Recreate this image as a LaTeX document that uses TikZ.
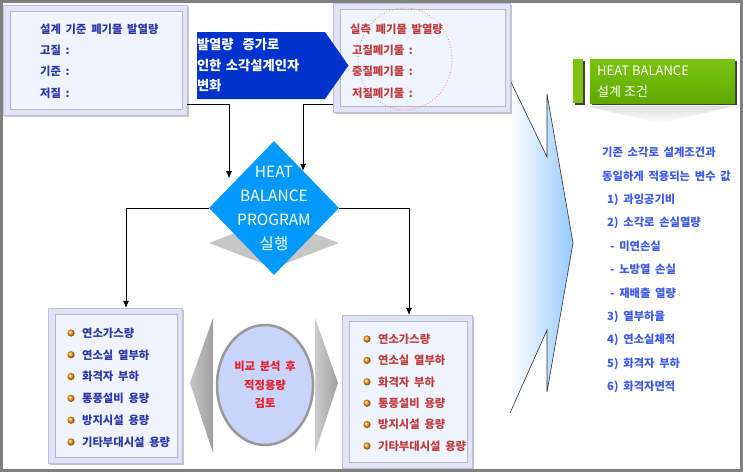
\documentclass[tikz,border=0pt]{standalone}
\usepackage{fontspec}
\setmainfont{Noto Sans CJK KR}
\usepackage{tikz}
\usetikzlibrary{arrows.meta,calc,positioning,shadows,shapes.geometric,shapes.symbols}
\definecolor{hbframe}{RGB}{226,226,250}
\definecolor{hbpaper}{RGB}{240,244,255}
\definecolor{hbnavy}{RGB}{44,56,170}
\definecolor{hbbrick}{RGB}{190,60,60}
\definecolor{hbroyal}{RGB}{0,51,204}
\definecolor{hbsky}{RGB}{0,153,255}
\definecolor{hbice}{RGB}{150,202,255}
\definecolor{hbgreen}{RGB}{96,168,0}
\definecolor{hbleaf}{RGB}{124,196,16}
\definecolor{hbcobalt}{RGB}{60,90,240}
\definecolor{hblilac}{RGB}{200,212,250}
\definecolor{hbscarlet}{RGB}{232,30,40}
\definecolor{hborange}{RGB}{255,160,20}
\newcommand{\hbfont}[2]{\fontsize{#1}{#2}\selectfont\bfseries\spaceskip=.42em\relax}
\tikzset{
  hbouter/.style={fill=hbframe,draw=hbframe!85!black,inner sep=0pt,
    drop shadow={shadow xshift=2pt,shadow yshift=-2pt,fill=gray,opacity=.45}},
  hbinset/.style={fill=hbpaper,draw=gray!55,line width=1.2pt},
  hbtext/.style={font=\hbfont{11.3}{21.3},align=left,inner sep=0pt},
  hbarrow/.style={-{Latex[length=7pt,width=6pt]},black,line width=.6pt},
}
\newcommand{\hbpanel}[4]{%
  \node[hbouter,minimum width=#3,minimum height=#4] (#1) at (#2) {};
  \filldraw[hbinset] ([shift={(8pt,-7pt)}]#1.north west) rectangle ([shift={(-5pt,6pt)}]#1.south east);
}
\newcommand{\hbitems}[5]{% name, x, y, step, colour
  \foreach \txt [count=\i] in {연소가스량,연소실 열부하,화격자 부하,통풍설비 용량,방지시설 용량,기타부대시설 용량}{
    \shade[ball color=hborange] (#2,{#3+(\i-1)*#4}) circle (3.6pt);
    \node[hbtext,text=#5,anchor=west] (#1\i) at ({#2+11},{#3+(\i-1)*#4}) {\txt};
  }
}

\begin{document}
\begin{tikzpicture}[x=1pt,y=-1pt,font=\fontsize{10.5}{13}\selectfont]
  \useasboundingbox (0,0) rectangle (743,472);
  \draw[gray,line width=2.6pt] (1.3,1.3) rectangle (741.7,470.7);

  % big arrow towards the conditions
  \shade[left color=white,right color=hbice] (510,80) -- (547,157) -- (547,94) -- (573,243)
    -- (547,392) -- (547,330) -- (510,413) -- cycle;
  \draw[gray!40!black,line width=.6pt] (510,80) -- (547,157) -- (547,94) -- (573,243)
    -- (547,392) -- (547,330) -- (510,413);

  % top panels
  \hbpanel{tl}{95,60}{184pt}{110pt}
  \node[hbtext,text=hbnavy,anchor=west] (tltext) at (40,61)
    {설계 기준 폐기물 발열량\\고질 :\\기준 :\\저질 :};
  \hbpanel{tr}{421.5,57.5}{177pt}{109pt}
  \node[hbtext,text=hbbrick,anchor=west] (trtext) at (350,61)
    {실측 폐기물 발열량\\\hspace*{2pt}고질폐기물 :\\\hspace*{2pt}중질폐기물 :\\\hspace*{2pt}저질폐기물 :};
  \draw[hbscarlet!55,dotted,line width=.8pt] (405,59) ellipse [x radius=47pt,y radius=51pt];

  \node[signal,signal to=east,signal pointer angle=110,fill=hbroyal,minimum width=144pt,
    minimum height=67pt,inner sep=0pt,text width=128pt,align=left,text=white,
    font=\hbfont{13.3}{20.5}] (shift) at (261,65.5)
    {발열량\ \ 증가로\\인한 소각설계인자\\변화};

  % program
  \node[diamond,fill=gray!45,minimum width=130pt,minimum height=50pt,inner sep=0pt] (progshade) at (274,243) {};
  \node[diamond,fill=hbsky,minimum width=130pt,minimum height=134pt,inner sep=0pt] (prog) at (274,208) {};
  \node[text=white,align=center,inner sep=0pt,font=\fontsize{15.5}{24}\selectfont] (progtext) at (prog)
    {HEAT\\BALANCE\\PROGRAM\\실행};

  % compare
  \shade[left color=gray!45,right color=gray!75] (190,383) -- (213,318) -- (213,453) -- cycle;
  \shade[left color=gray!40,right color=gray!75] (315,318) -- (338,383) -- (315,453) -- cycle;
  \node[ellipse,fill=hblilac,draw=gray!80,line width=2.5pt,minimum width=96pt,minimum height=120pt,
    inner sep=0pt,align=center,text=hbscarlet,font=\hbfont{11.3}{18.5}] (cmp) at (265,385)
    {비교 분석 후\\적정용량\\검토};

  % bottom panels
  \hbpanel{bl}{115,385.5}{134pt}{155pt}
  \hbitems{bli}{71}{333}{21.8}{hbnavy}
  \hbpanel{br}{407,391.5}{130pt}{153pt}
  \hbitems{bri}{367}{339}{21.4}{hbbrick}

  % connectors
  \draw[hbarrow,shorten >=9pt] ([yshift=11pt]tl.south east) -| ($(prog.north)!.69!(prog.west)$);
  \draw[hbarrow] ([yshift=8pt]tr.south west) -| ($(prog.north)!.446!(prog.east)$);
  \draw[hbarrow] (prog.west) -| ([xshift=11pt]bl.north);
  \draw[hbarrow] (prog.east) -| ([xshift=2pt]br.north);

  % design conditions
  \node[fill=hbleaf,minimum width=10pt,minimum height=44pt,inner sep=0pt,
    drop shadow={shadow xshift=2pt,shadow yshift=-2pt,fill=black!75,opacity=1}] (headtab) at (578,81) {};
  \node[top color=hbleaf,bottom color=hbgreen,minimum width=145pt,minimum height=44pt,inner sep=0pt,
    drop shadow={shadow xshift=2pt,shadow yshift=-2pt,fill=black!75,opacity=1}] (head) at (662.5,81) {};
  \node[anchor=west,text=white,align=left,inner sep=0pt,font=\fontsize{13}{21}\selectfont] (headtext) at (597,81.5)
    {HEAT BALANCE\\설계 조건};
  \shade[top color=gray!25,bottom color=white] (585,106) -- (735,106) -- (660,123) -- cycle;
  \node[hbtext,text=hbcobalt,anchor=west,font=\hbfont{11.3}{23.4}] (conds) at (602,270)
    {기존 소각로 설계조건과\\동일하게 적용되는 변수 값\\\hspace*{5pt}1) 과잉공기비\\\hspace*{5pt}2) 소각로 손실열량\\
     \hspace*{8pt}- 미연손실\\\hspace*{8pt}- 노방열 손실\\\hspace*{8pt}- 재배출 열량\\
     \hspace*{5pt}3) 열부하율\\\hspace*{5pt}4) 연소실체적\\\hspace*{5pt}5) 화격자 부하\\\hspace*{5pt}6) 화격자면적};
\end{tikzpicture}
\end{document}
